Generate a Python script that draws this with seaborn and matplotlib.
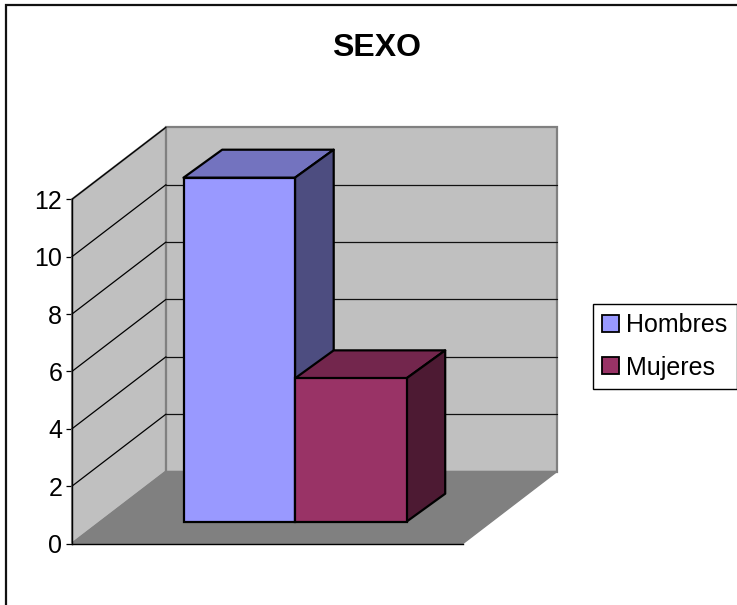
import matplotlib
matplotlib.use("Agg")
import matplotlib.pyplot as plt
from matplotlib.patches import Polygon, Rectangle, Patch
import pandas as pd
import seaborn as sns

# data
categories = ["Hombres", "Mujeres"]
values = [12, 5]
colors_front = ["#9999FF", "#993366"]
colors_top = ["#7373BF", "#73264D"]
colors_side = ["#4D4D80", "#4D1A33"]
yticks = [0, 2, 4, 6, 8, 10, 12]
title = "SEXO"

W, H = 737, 605
sns.set_theme(style="white")
plt.rcParams["font.family"] = ["Liberation Sans", "DejaVu Sans"]
plt.rcParams["text.color"] = "black"
plt.rcParams["axes.labelcolor"] = "black"
plt.rcParams["xtick.color"] = "black"
plt.rcParams["ytick.color"] = "black"
fig = plt.figure(figsize=(W / 100, H / 100), dpi=100, facecolor="white")


def box(x0, y_top, x1, y_bot):
    return [x0 / W, 1 - y_bot / H, (x1 - x0) / W, (y_bot - y_top) / H]


# figure border (top and left only reach the canvas)
fig.add_artist(Rectangle((5.5 / W, -0.05), 1.1, 1.05 - 5 / H, transform=fig.transFigure,
                         fill=False, edgecolor="#111111", linewidth=1.6))

# frame axes: front plane of the 3D box
FX0, FX1, FY12, FY0 = 72, 463, 199.3, 543.5
ax = fig.add_axes(box(FX0, FY12, FX1, FY0), facecolor="none")
ax.set_xlim(0, FX1 - FX0)
ax.set_ylim(0, 12)
unit = (FY0 - FY12) / 12
DX, DY = 94.0, 72.0 / unit
top = max(yticks)
WALL = "#C0C0C0"
EDGE = "#808080"
# side wall, back wall, floor
ax.add_patch(Polygon([(0, 0), (DX, DY), (DX, top + DY), (0, top)], closed=True, facecolor=WALL,
                     edgecolor=EDGE, linewidth=1.5, clip_on=False, zorder=1))
ax.add_patch(Polygon([(DX, DY), (FX1 - FX0 + DX, DY), (FX1 - FX0 + DX, top + DY), (DX, top + DY)],
                     closed=True, facecolor=WALL, edgecolor=EDGE, linewidth=1.6, clip_on=False, zorder=1))
ax.add_patch(Polygon([(0, 0), (FX1 - FX0, 0), (FX1 - FX0 + DX, DY), (DX, DY)], closed=True,
                     facecolor=EDGE, edgecolor=EDGE, linewidth=1, clip_on=False, zorder=1.5))
# gridlines
for v in yticks[1:]:
    ax.plot([0, DX], [v, v + DY], color="black", lw=0.9, clip_on=False, zorder=2)
    if v < top:
        ax.plot([DX, FX1 - FX0 + DX], [v + DY, v + DY], color="#111111", lw=0.9, clip_on=False, zorder=2)

ax.set_xticks([])
ax.set_yticks(yticks)
ax.tick_params(axis="y", length=4.5, width=0.9, color="black", pad=2.5, labelsize=18, left=True, labelcolor="black")
sns.despine(ax=ax, top=True, right=True)
for s in ["left", "bottom"]:
    ax.spines[s].set_color("black")
    ax.spines[s].set_linewidth(1.0)
    ax.spines[s].set_zorder(3)

# bars: drawn by seaborn on their own plane, in front of the back wall
BX0, BX1, BY12, BY0 = 183.5, 406.5, 177.7, 521.7
bx = fig.add_axes(box(BX0, BY12, BX1, BY0), facecolor="none")
df = pd.DataFrame({"sexo": categories, "n": values})
sns.barplot(data=df, x="sexo", y="n", hue="sexo", hue_order=categories, order=categories,
            palette=colors_front, width=1.0, dodge=False, legend=False, saturation=1,
            edgecolor="black", linewidth=1.6, ax=bx)
bx.set_xlim(-0.5, 1.5)
bx.set_ylim(0, 12)
bx.axis("off")
for p in bx.patches:
    p.set_zorder(5)
    p.set_clip_on(False)

ddx = 38.7 / ((BX1 - BX0) / 2)
ddy = 28.0 / ((BY0 - BY12) / 12)
for i, v in enumerate(values):
    l, r = i - 0.5, i + 0.5
    z = 2 + i
    bx.add_patch(Polygon([(l, v), (r, v), (r + ddx, v + ddy), (l + ddx, v + ddy)], closed=True,
                         facecolor=colors_top[i], edgecolor="black", linewidth=1.6, clip_on=False,
                         joinstyle="round", zorder=z))
    bx.add_patch(Polygon([(r, 0), (r + ddx, ddy), (r + ddx, v + ddy), (r, v)], closed=True,
                         facecolor=colors_side[i], edgecolor="black", linewidth=1.6, clip_on=False,
                         joinstyle="round", zorder=z))

# title
fig.text(376.5 / W, 1 - 47.5 / H, title, ha="center", va="center", fontsize=23, fontweight="bold", color="black")

# legend
handles = [Patch(facecolor=c, edgecolor="black", linewidth=1.3, label=n)
           for c, n in zip(colors_front, categories)]
leg = fig.legend(handles=handles, loc="center left", bbox_to_anchor=(592.5 / W, 1 - 346.5 / H),
                 fontsize=18, frameon=True, fancybox=False, framealpha=1, edgecolor="black",
                 handlelength=0.68, handleheight=0.68, handletextpad=0.25, labelspacing=0.72,
                 borderpad=0.39, borderaxespad=0, labelcolor="black")
leg.get_frame().set_linewidth(1.0)

fig.savefig("out.png", dpi=100, facecolor="white")
